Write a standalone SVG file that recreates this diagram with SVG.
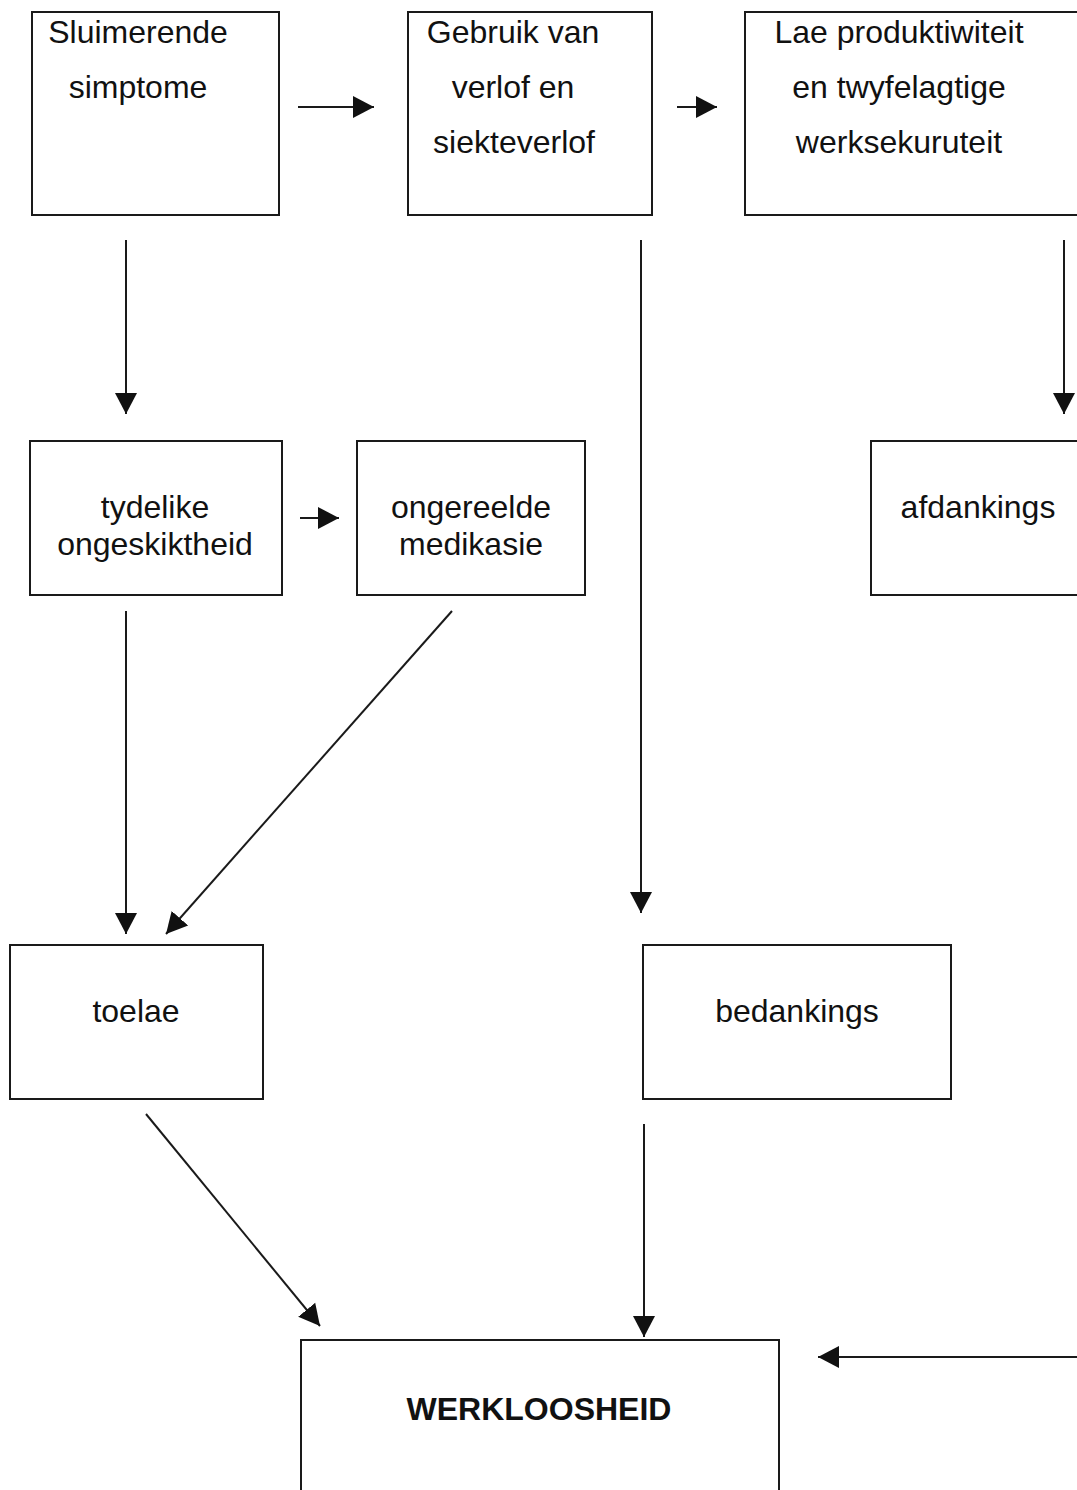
<svg xmlns="http://www.w3.org/2000/svg" width="1077" height="1490" viewBox="0 0 1077 1490">
  <style>
    .box { fill: none; stroke: #1a1a1a; stroke-width: 2; }
    .lbl { font-family: "Liberation Sans", Arial, sans-serif; font-size: 32px; fill: #111; text-anchor: middle; }
    .bold { font-weight: bold; }
    .edge { stroke: #1a1a1a; stroke-width: 2; fill: none; marker-end: url(#head); }
  </style>
  <defs>
    <marker id="head" markerUnits="userSpaceOnUse" markerWidth="22" markerHeight="24" viewBox="0 0 22 24" refX="21" refY="12" orient="auto">
      <path d="M0,1 L21,12 L0,23 z" fill="#111"/>
    </marker>
  </defs>
  <rect width="1077" height="1490" fill="#fff"/>

  <g id="connectors">
    <line class="edge" x1="298" y1="107" x2="374" y2="107"/>
    <line class="edge" x1="677" y1="107" x2="717" y2="107"/>
    <line class="edge" x1="126" y1="240" x2="126" y2="414"/>
    <line class="edge" x1="641" y1="240" x2="641" y2="913"/>
    <line class="edge" x1="1064" y1="240" x2="1064" y2="414"/>
    <line class="edge" x1="300" y1="518" x2="339" y2="518"/>
    <line class="edge" x1="126" y1="611" x2="126" y2="934"/>
    <line class="edge" x1="452" y1="611" x2="166" y2="934"/>
    <line class="edge" x1="146" y1="1114" x2="320" y2="1326"/>
    <line class="edge" x1="644" y1="1124" x2="644" y2="1337"/>
    <line class="edge" x1="1080" y1="1357" x2="818" y2="1357"/>
  </g>

  <g id="sluimerende">
    <rect class="box" x="32" y="12" width="247" height="203"/>
    <text class="lbl" x="138" y="43">Sluimerende</text>
    <text class="lbl" x="138" y="98">simptome</text>
  </g>
  <g id="verlof">
    <rect class="box" x="408" y="12" width="244" height="203"/>
    <text class="lbl" x="513" y="43">Gebruik van</text>
    <text class="lbl" x="513" y="98">verlof en</text>
    <text class="lbl" x="514" y="153">siekteverlof</text>
  </g>
  <g id="produktiwiteit">
    <rect class="box" x="745" y="12" width="345" height="203"/>
    <text class="lbl" x="899" y="43">Lae produktiwiteit</text>
    <text class="lbl" x="899" y="98">en twyfelagtige</text>
    <text class="lbl" x="899" y="153">werksekuruteit</text>
  </g>
  <g id="ongeskiktheid">
    <rect class="box" x="30" y="441" width="252" height="154"/>
    <text class="lbl" x="155" y="518">tydelike</text>
    <text class="lbl" x="155" y="555">ongeskiktheid</text>
  </g>
  <g id="medikasie">
    <rect class="box" x="357" y="441" width="228" height="154"/>
    <text class="lbl" x="471" y="518">ongereelde</text>
    <text class="lbl" x="471" y="555">medikasie</text>
  </g>
  <g id="afdankings">
    <rect class="box" x="871" y="441" width="220" height="154"/>
    <text class="lbl" x="978" y="518">afdankings</text>
  </g>
  <g id="toelae">
    <rect class="box" x="10" y="945" width="253" height="154"/>
    <text class="lbl" x="136" y="1022">toelae</text>
  </g>
  <g id="bedankings">
    <rect class="box" x="643" y="945" width="308" height="154"/>
    <text class="lbl" x="797" y="1022">bedankings</text>
  </g>
  <g id="werkloosheid">
    <rect class="box" x="301" y="1340" width="478" height="170"/>
    <text class="lbl bold" x="539" y="1420">WERKLOOSHEID</text>
  </g>
</svg>
